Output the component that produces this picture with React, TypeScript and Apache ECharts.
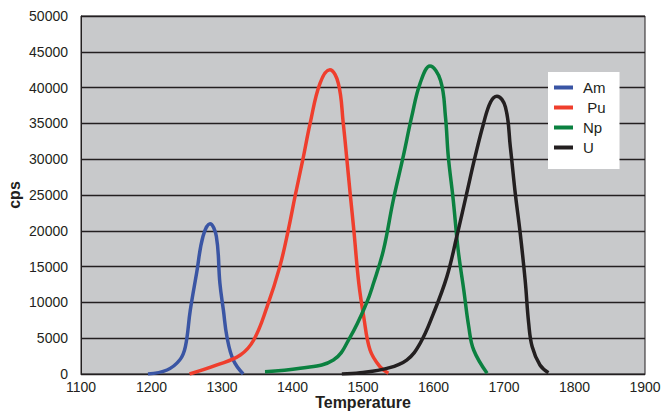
import React, { useEffect, useRef } from "react";
import * as echarts from "echarts";

// Temperature (°C) vs count rate (cps) for each element
const amData: [number, number][] = [
  [1195, 0], [1222, 560], [1240, 1950], [1248, 3800], [1255, 8900], [1264, 14100],
  [1273, 19200], [1283, 21000], [1292, 19200], [1297, 12700], [1302, 8900],
  [1307, 5200], [1316, 1950], [1330, 0],
];
const puData: [number, number][] = [
  [1254, 0], [1293, 1260], [1326, 2650], [1345, 4750], [1364, 9400], [1382, 15000],
  [1394, 20100], [1404, 25000], [1415, 30100], [1425, 35000], [1439, 40600],
  [1453, 42500], [1465, 40600], [1472, 35000], [1477, 30100], [1482, 25000],
  [1487, 20100], [1494, 12700], [1501, 8000], [1510, 3350], [1524, 1020], [1536, 100],
];
const npData: [number, number][] = [
  [1361, 330], [1411, 790], [1458, 1950], [1482, 5200], [1505, 9900], [1515, 12700],
  [1529, 17300], [1543, 24300], [1557, 30350], [1569, 35900], [1581, 40600],
  [1595, 43000], [1610, 41000], [1617, 35900], [1621, 30350], [1628, 24300],
  [1635, 17300], [1643, 11700], [1650, 6600], [1657, 3350], [1676, 100],
];
const uData: [number, number][] = [
  [1470, 0], [1496, 180], [1534, 790], [1562, 1950], [1581, 4280], [1600, 8470],
  [1619, 13600], [1633, 19200], [1647, 25200], [1659, 30350], [1671, 35000],
  [1681, 38000], [1690, 38800], [1702, 37300], [1709, 31700], [1716, 25200],
  [1723, 19650], [1730, 13100], [1735, 7100], [1740, 3800], [1751, 1260], [1763, 180],
];

const seriesNames = ["Am", "Pu", "Np", "U"];
const seriesColors = ["#3a55a4", "#ef3e2d", "#0b8140", "#231f20"];
const seriesData = [amData, puData, npData, uData];
const xTitle = "Temperature";
const yTitle = "cps";

export default function App() {
  const ref = useRef<HTMLDivElement>(null);

  useEffect(() => {
    if (!ref.current) return;
    const chart = echarts.init(ref.current, null, { renderer: "svg" });
    const font = "'Liberation Sans', Arial, sans-serif";
    const ink = "#231f20";
    chart.setOption({
      animation: false,
      backgroundColor: "#ffffff",
      textStyle: { fontFamily: font },
      grid: {
        left: 81,
        right: 16,
        top: 16,
        bottom: 38,
        containLabel: false,
        outerBoundsMode: "none",
        show: true,
        backgroundColor: "#c8c9cb",
        borderColor: ink,
        borderWidth: 1,
      },
      // axis titles
      graphic: [
        {
          type: "text",
          x: 363,
          y: 402,
          style: {
            text: xTitle,
            font: `bold 16px ${font}`,
            fill: ink,
            align: "center",
            verticalAlign: "middle",
          },
        },
        {
          type: "text",
          x: 14,
          y: 195,
          rotation: Math.PI / 2,
          style: {
            text: yTitle,
            font: `bold 16px ${font}`,
            fill: ink,
            align: "center",
            verticalAlign: "middle",
          },
        },
      ],
      legend: {
        data: seriesNames.map((n, i) => ({ name: n, itemStyle: { color: seriesColors[i] } })),
        orient: "vertical",
        left: 548,
        top: 72,
        backgroundColor: "#ffffff",
        padding: [8, 14, 14, 6],
        itemGap: 5,
        itemWidth: 19,
        itemHeight: 4,
        icon: "rect",
        formatter: (n: string) => (n === "Pu" ? " Pu" : n),
        textStyle: {
          fontSize: 15,
          lineHeight: 15,
          color: ink,
          fontFamily: font,
          padding: [0, 0, 0, 5],
        },
      },
      xAxis: {
        type: "value",
        min: 1100,
        max: 1900,
        interval: 100,
        axisLine: { show: true, lineStyle: { color: ink, width: 1 } },
        axisTick: { show: false },
        axisLabel: {
          fontSize: 14,
          color: ink,
          margin: 6,
          fontFamily: font,
          formatter: (v: number) => String(v),
        },
        splitLine: { show: false },
      },
      yAxis: {
        type: "value",
        min: 0,
        max: 50000,
        interval: 5000,
        axisLine: { show: true, lineStyle: { color: ink, width: 1 } },
        axisTick: { show: false },
        axisLabel: {
          fontSize: 14,
          color: ink,
          margin: 13,
          fontFamily: font,
          formatter: (v: number) => String(v),
        },
        splitLine: { show: true, lineStyle: { color: ink, width: 1.3 } },
      },
      series: seriesNames.map((n, i) => ({
        name: n,
        type: "line",
        data: seriesData[i],
        smooth: 0.4,
        showSymbol: false,
        symbol: "none",
        lineStyle: { color: seriesColors[i], width: 3.5 },
        itemStyle: { color: seriesColors[i] },
      })),
    });
    return () => chart.dispose();
  }, []);

  return (
    <div
      ref={ref}
      style={{ position: "fixed", left: 0, top: 0, width: 661, height: 412 }}
    />
  );
}
